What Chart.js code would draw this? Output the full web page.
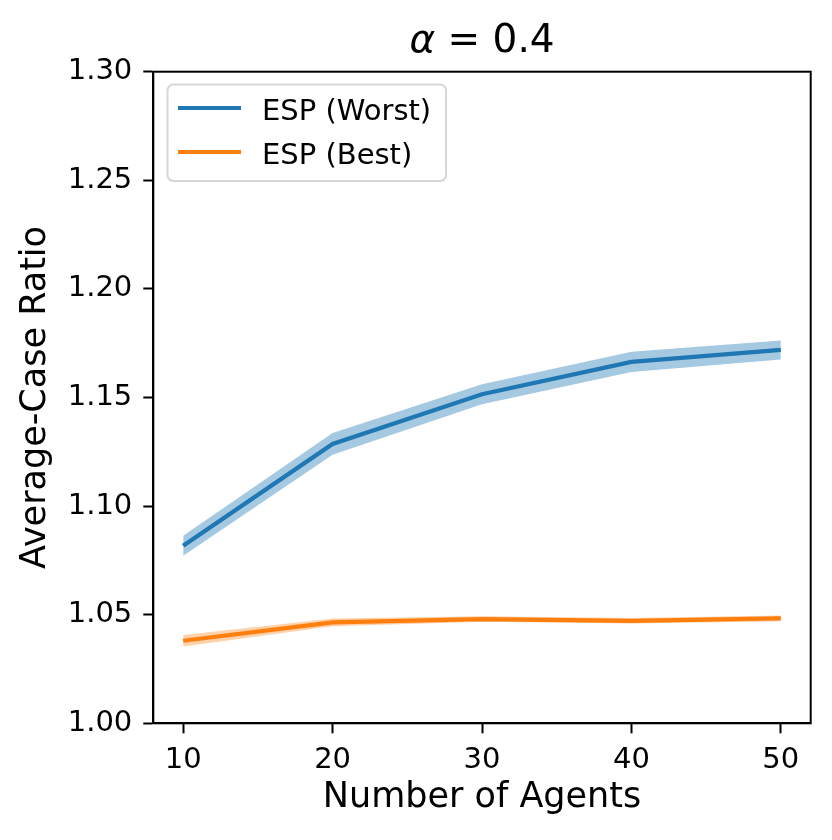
<!DOCTYPE html>
<html>
<head>
<meta charset="utf-8">
<script src="https://cdn.jsdelivr.net/npm/chart.js@4.4.0/dist/chart.umd.min.js"></script>
<style>
  html, body { margin: 0; padding: 0; background: #fff; }
  #wrap { width: 832px; height: 840px; }
</style>
</head>
<body>
<div id="wrap"><canvas id="c" width="832" height="840"></canvas></div>
<script>
const agents = [10, 20, 30, 40, 50];
const worstMean = [1.0817, 1.1286, 1.1515, 1.1664, 1.1719];
const worstErr  = [0.0046, 0.0050, 0.0046, 0.0047, 0.0044];
const bestMean  = [1.0380, 1.0465, 1.0480, 1.0472, 1.0483];
const bestErr   = [0.0026, 0.0018, 0.0013, 0.0013, 0.0013];
const xTicks = [10, 20, 30, 40, 50];
const yTicks = [1.00, 1.05, 1.10, 1.15, 1.20, 1.25, 1.30];
const seriesNames = ['ESP (Worst)', 'ESP (Best)'];
const titleMath = 'α';
const titleRest = ' = 0.4';
const xLabel = 'Number of Agents';
const yLabel = 'Average-Case Ratio';

const BLUE = '#1f77b4', ORANGE = '#ff7f0e';
const pts = (ys) => agents.map((x, i) => ({x, y: ys[i]}));
const add = (m, e, s) => m.map((v, i) => v + s * e[i]);

const FONT = "'DejaVu Sans'";

const framePlugin = {
  id: 'frame',
  afterDraw(chart) {
    const {ctx, chartArea: a} = chart;
    ctx.save();
    ctx.strokeStyle = '#000';
    ctx.lineWidth = 2;
    ctx.strokeRect(a.left, a.top, a.right - a.left, a.bottom - a.top);

    // legend
    const lx = 167.5, ly = 84.5, lw = 278.5, lh = 96.5, r = 6;
    ctx.beginPath();
    ctx.moveTo(lx + r, ly);
    ctx.arcTo(lx + lw, ly, lx + lw, ly + lh, r);
    ctx.arcTo(lx + lw, ly + lh, lx, ly + lh, r);
    ctx.arcTo(lx, ly + lh, lx, ly, r);
    ctx.arcTo(lx, ly, lx + lw, ly, r);
    ctx.closePath();
    ctx.fillStyle = 'rgba(255,255,255,0.8)';
    ctx.fill();
    ctx.strokeStyle = '#d6d6d6';
    ctx.lineWidth = 2;
    ctx.stroke();
    const rows = [{y: 108, c: BLUE, t: seriesNames[0], b: 120}, {y: 152, c: ORANGE, t: seriesNames[1], b: 163.5}];
    rows.forEach(rw => {
      ctx.beginPath();
      ctx.moveTo(178, rw.y);
      ctx.lineTo(241, rw.y);
      ctx.strokeStyle = rw.c;
      ctx.lineWidth = 4;
      ctx.stroke();
      ctx.fillStyle = '#000';
      ctx.font = '29px ' + FONT;
      ctx.textBaseline = 'alphabetic';
      ctx.textAlign = 'left';
      ctx.fillText(rw.t, 262, rw.b);
    });

    // title
    const cx = (a.left + a.right) / 2;
    const TS = 39;
    ctx.font = 'italic ' + TS + 'px ' + FONT;
    const w1 = ctx.measureText(titleMath).width;
    ctx.font = TS + 'px ' + FONT;
    const w2 = ctx.measureText(titleRest).width;
    const x0 = cx - (w1 + w2) / 2;
    ctx.fillStyle = '#000';
    ctx.textBaseline = 'alphabetic';
    ctx.font = 'italic ' + TS + 'px ' + FONT;
    ctx.fillText(titleMath, x0, 51.5);
    ctx.font = TS + 'px ' + FONT;
    ctx.fillText(titleRest, x0 + w1, 51.5);
    ctx.restore();
  }
};

const bandDs = (data, color, fill) => ({
  data, borderWidth: 0, pointRadius: 0, backgroundColor: color,
  borderColor: 'transparent', fill, order: 2, tension: 0
});

new Chart(document.getElementById('c'), {
  type: 'line',
  data: {
    datasets: [
      bandDs(pts(add(worstMean, worstErr, -1)), 'rgba(31,119,180,0.4)', false),
      bandDs(pts(add(worstMean, worstErr, 1)), 'rgba(31,119,180,0.4)', '-1'),
      bandDs(pts(add(bestMean, bestErr, -1)), 'rgba(255,127,14,0.35)', false),
      bandDs(pts(add(bestMean, bestErr, 1)), 'rgba(255,127,14,0.35)', '-1'),
      { label: seriesNames[0], data: pts(worstMean), borderColor: BLUE, borderWidth: 4.2,
        pointRadius: 0, fill: false, order: 0, tension: 0 },
      { label: seriesNames[1], data: pts(bestMean), borderColor: ORANGE, borderWidth: 4.2,
        pointRadius: 0, fill: false, order: 0, tension: 0 }
    ]
  },
  options: {
    responsive: false,
    animation: false,
    devicePixelRatio: 1,
    layout: { padding: { left: 0, right: 21.3, top: 71.7, bottom: 0 } },
    plugins: { legend: { display: false }, tooltip: { enabled: false }, title: { display: false } },
    scales: {
      x: {
        type: 'linear', min: 8, max: 52,
        afterBuildTicks: (s) => { s.ticks = xTicks.map(v => ({value: v})); },
        afterFit: (s) => { s.height = 116.7; },
        ticks: { color: '#000', font: { family: FONT, size: 29 }, padding: 10, maxRotation: 0,
                 callback: (v) => String(v) },
        grid: { display: true, drawOnChartArea: false, drawTicks: true, tickLength: 10,
                tickWidth: 2, tickColor: '#000', color: '#000' },
        border: { display: true, color: '#000', width: 2 },
        title: { display: true, text: xLabel, color: '#000', font: { family: FONT, size: 35 },
                 padding: { top: 0, bottom: 21 } }
      },
      y: {
        type: 'linear', min: 1.0, max: 1.3,
        afterBuildTicks: (s) => { s.ticks = yTicks.map(v => ({value: v})); },
        afterFit: (s) => { s.width = 153.3; },
        ticks: { color: '#000', font: { family: FONT, size: 29 }, padding: 11,
                 callback: (v) => Number(v).toFixed(2) },
        grid: { display: true, drawOnChartArea: false, drawTicks: true, tickLength: 10,
                tickWidth: 2, tickColor: '#000', color: '#000' },
        border: { display: true, color: '#000', width: 2 },
        title: { display: true, text: yLabel, color: '#000', font: { family: FONT, size: 35 },
                 padding: { top: 15, bottom: 0 } }
      }
    }
  },
  plugins: [framePlugin]
});
</script>
</body>
</html>
